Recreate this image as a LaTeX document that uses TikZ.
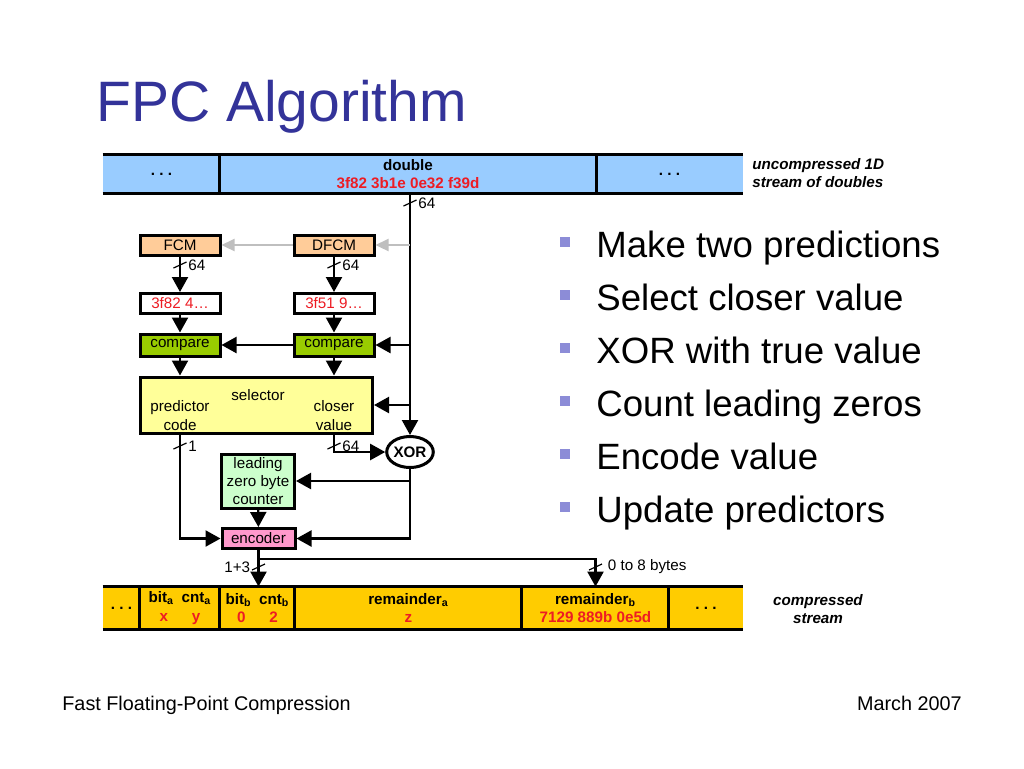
\documentclass[tikz,border=0pt]{standalone}
\usepackage{fontspec}
\setmainfont{Liberation Sans}
\usetikzlibrary{arrows.meta,shapes.geometric}

\definecolor{titleblue}{RGB}{51,51,153}
\definecolor{bulletblue}{RGB}{140,140,215}
\definecolor{fpcred}{RGB}{237,28,36}
\definecolor{topstream}{RGB}{153,204,255}
\definecolor{botstream}{RGB}{255,204,0}
\definecolor{predfill}{RGB}{255,204,153}
\definecolor{cmpfill}{RGB}{153,204,0}
\definecolor{selfill}{RGB}{255,255,153}
\definecolor{lzfill}{RGB}{204,255,204}
\definecolor{encfill}{RGB}{255,153,204}

\newcommand{\fpcsmall}{\fontsize{7.6}{9.4}\selectfont}
\newcommand{\bustick}[3]{%
  \draw[line width=0.6pt] (#1) ++(-6.5,3) -- ++(13,-6);
  \node[inner sep=0pt,#3] at (#1) {\fpcsmall #2};}

\begin{document}
\begin{tikzpicture}[x=0.5pt,y=-0.5pt,
    box/.style={draw,line width=1.5pt,inner sep=0pt,font=\fpcsmall,align=center},
    seg/.style={inner sep=0pt,font=\fpcsmall\bfseries,align=center},
    arr/.style={line width=1.1pt,-{Triangle[length=7.5pt,width=8pt]}},
    garr/.style={line width=1.1pt,draw=black!25,-{Triangle[length=6.5pt,width=6pt]}},
    bul/.style={fill=bulletblue,minimum size=5pt,inner sep=0pt}]
  \useasboundingbox (0,0) rectangle (1024,768);

  \node[anchor=base west,inner sep=0pt,text=titleblue,font=\fontsize{28.5}{34}\selectfont] (title) at (96,121) {FPC Algorithm};

  % input stream
  \node[seg,fill=topstream,minimum width=58.5pt,minimum height=19pt] (tl) at (161.5,174) {.~.~.};
  \node[seg,fill=topstream,minimum width=188pt,minimum height=19pt] (dbl) at (408,174) {double\\\textcolor{fpcred}{3f82 3b1e 0e32 f39d}};
  \node[seg,fill=topstream,minimum width=73.5pt,minimum height=19pt] (tr) at (669.5,174) {.~.~.};
  \draw[line width=1.5pt] (tl.north west) -- (tr.north east) (tl.south west) -- (tr.south east);
  \draw[line width=1.5pt] (dbl.north west) -- (dbl.south west) (dbl.north east) -- (dbl.south east);
  \node[anchor=west,inner sep=0pt,align=left,font=\fpcsmall\bfseries\itshape] (ulbl) at (752,173) {uncompressed 1D\\stream of doubles};

  \node[box,fill=predfill,minimum width=40pt,minimum height=10pt] (fcm) at (180,245) {FCM};
  \node[box,fill=predfill,minimum width=40pt,minimum height=10pt] (dfcm) at (334,245) {DFCM};
  \node[box,fill=white,text=fpcred,minimum width=40pt,minimum height=10pt] (vfcm) at (180,303.5) {3f82 4\ldots};
  \node[box,fill=white,text=fpcred,minimum width=40pt,minimum height=10pt] (vdfcm) at (334,303.5) {3f51 9\ldots};
  \node[box,fill=cmpfill,minimum width=40pt,minimum height=11pt] (cmpa) at (180,345) {compare};
  \node[box,fill=cmpfill,minimum width=40pt,minimum height=11pt] (cmpb) at (334,345) {compare};
  \node[box,fill=selfill,minimum width=116pt,minimum height=28pt] (sel) at (256.5,405) {};
  \node[font=\fpcsmall] (seltxt) at (258,395) {selector};
  \node[font=\fpcsmall,align=center] (pcode) at (180,415.5) {predictor\\code};
  \node[font=\fpcsmall,align=center] (cval) at (334,415.5) {closer\\value};
  \node[box,ellipse,font=\fpcsmall\bfseries,minimum width=20.5pt,minimum height=15.5pt] (xor) at (410,452) {XOR};
  \node[box,fill=lzfill,minimum width=36.5pt,minimum height=27pt,font=\fontsize{7.6}{9}\selectfont] (lzbc) at (258,481) {leading\\zero byte\\counter};
  \node[box,fill=encfill,minimum width=36.5pt,minimum height=10pt] (enc) at (258.5,538.5) {encoder};

  % output stream
  \node[seg,fill=botstream,minimum width=18.5pt,minimum height=21pt] (bl) at (121.5,608) {.~.~.};
  \node[seg,fill=botstream,minimum width=40pt,minimum height=21pt] (bita) at (180,608) {bit\textsubscript{a}\enspace cnt\textsubscript{a}\\\textcolor{fpcred}{x\hspace{12pt}y}};
  \node[seg,fill=botstream,minimum width=37.5pt,minimum height=21pt] (bitb) at (257.5,608) {bit\textsubscript{b}\enspace cnt\textsubscript{b}\\\textcolor{fpcred}{0\hspace{12pt}2}};
  \node[seg,fill=botstream,minimum width=113.5pt,minimum height=21pt] (rema) at (408.5,608) {remainder\textsubscript{a}\\\textcolor{fpcred}{z}};
  \node[seg,fill=botstream,minimum width=73.5pt,minimum height=21pt] (remb) at (595.5,608) {remainder\textsubscript{b}\\\textcolor{fpcred}{7129 889b 0e5d}};
  \node[seg,fill=botstream,minimum width=37pt,minimum height=21pt] (br) at (706,608) {.~.~.};
  \draw[line width=1.5pt] (bl.north west) -- (br.north east) (bl.south west) -- (br.south east);
  \foreach \s in {bita,bitb,rema,remb,br}
    \draw[line width=1.5pt] (\s.north west) -- (\s.south west);
  \node[align=center,font=\fpcsmall\bfseries\itshape] (clbl) at (818,609) {compressed\\stream};

  \coordinate (tap) at (xor |- dbl.south);
  \draw[arr] (tap) -- (xor);
  \draw[garr] (dfcm -| tap) -- (dfcm);
  \draw[garr] (dfcm) -- (fcm);
  \draw[arr] (fcm) -- (vfcm);
  \draw[arr] (dfcm) -- (vdfcm);
  \draw[arr] (vfcm) -- (cmpa);
  \draw[arr] (vdfcm) -- (cmpb);
  \draw[arr] (cmpb -| tap) -- (cmpb);
  \draw[arr] (cmpb) -- (cmpa);
  \draw[arr] (cmpa) -- (cmpa |- sel.north);
  \draw[arr] (cmpb) -- (cmpb |- sel.north);
  \draw[arr] (sel -| tap) -- (sel);
  \draw[arr] (pcode |- sel.south) |- (enc);
  \draw[arr] (cval |- sel.south) |- (xor);
  \draw[arr] (xor) |- (enc);
  \draw[arr] (lzbc -| xor) -- (lzbc);
  \draw[arr] (lzbc) -- (enc);
  \draw[arr] (enc) -- (enc |- bitb.north);
  \draw[arr] (enc.south) ++(0,9) -| (remb);

  \bustick{410,203}{64}{anchor=west,xshift=4pt}
  \bustick{180,265}{64}{anchor=west,xshift=4pt}
  \bustick{334,265}{64}{anchor=west,xshift=4pt}
  \bustick{180,446}{1}{anchor=west,xshift=4pt}
  \bustick{334,446}{64}{anchor=west,xshift=4pt}
  \bustick{258.5,567}{1+3}{anchor=east,xshift=-4pt}
  \bustick{595.5,567}{0 to 8 bytes}{anchor=west,xshift=6pt}

  \foreach \t [count=\i] in {Make two predictions,Select closer value,XOR with true value,Count leading zeros,Encode value,Update predictors} {
    \node[bul] (b\i) at (565,{242+53*(\i-1)}) {};
    \node[anchor=base west,inner sep=0pt,font=\fontsize{18.3}{22}\selectfont] (t\i) at (596,{257+53*(\i-1)}) {\t};
  }

  \node[anchor=base west,inner sep=0pt,font=\fontsize{9.9}{12}\selectfont] (foot) at (62,710) {Fast Floating-Point Compression};
  \node[anchor=base east,inner sep=0pt,font=\fontsize{9.9}{12}\selectfont] (date) at (962,710) {March 2007};
\end{tikzpicture}
\end{document}
